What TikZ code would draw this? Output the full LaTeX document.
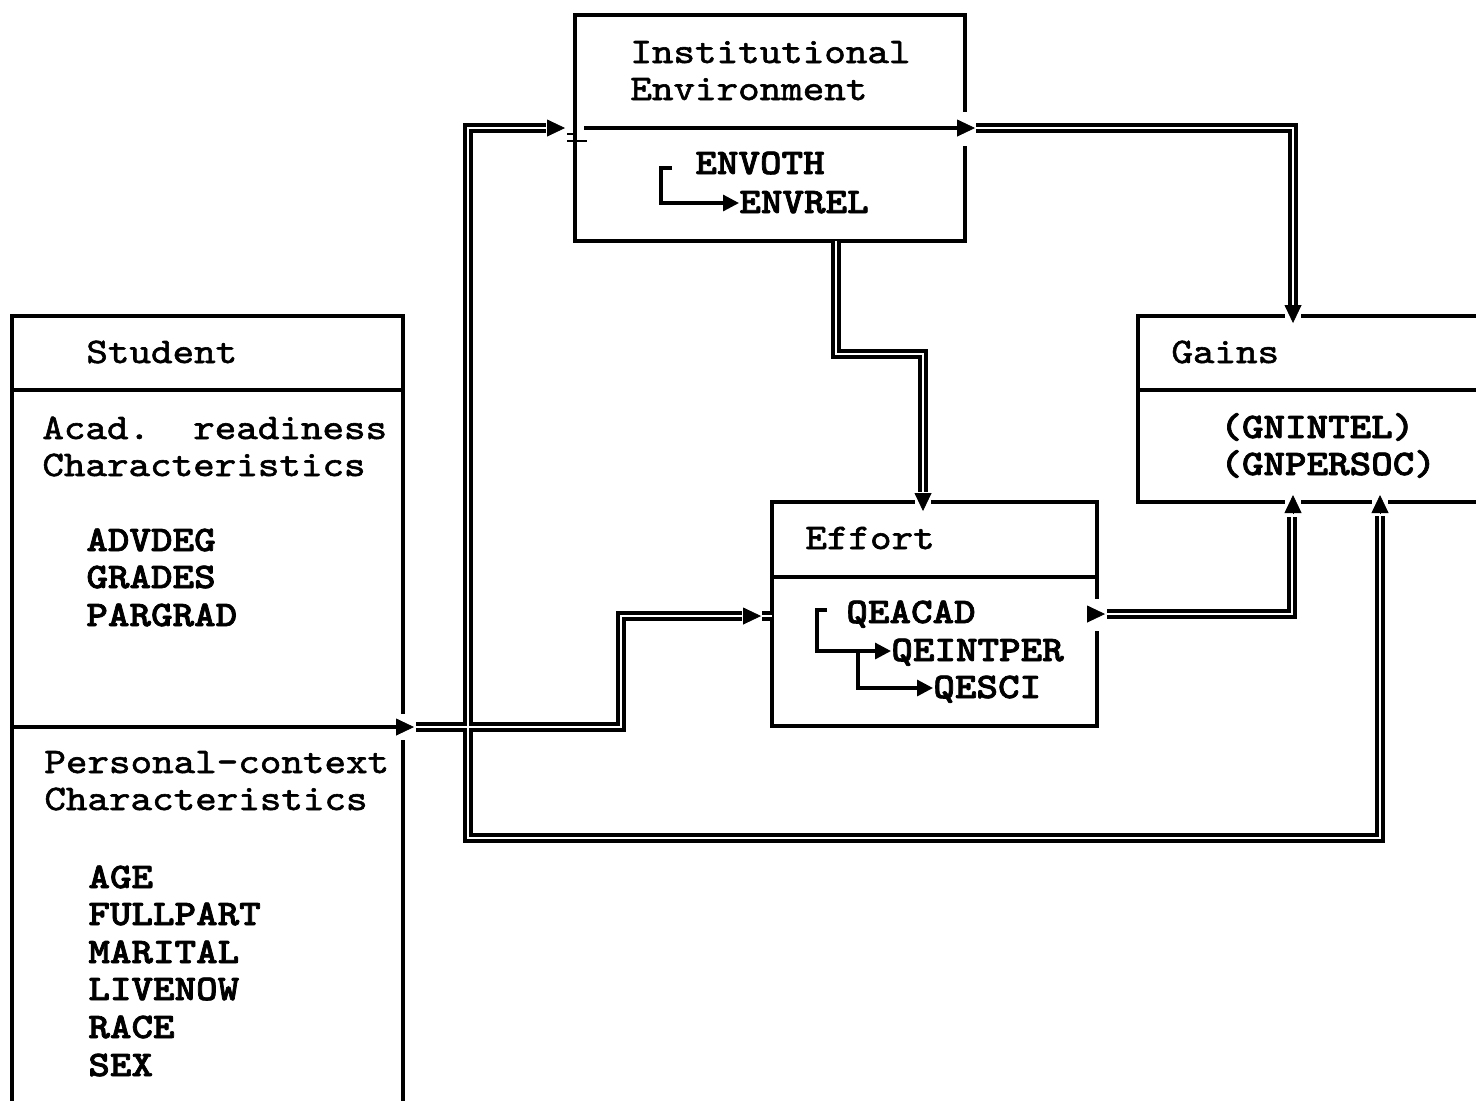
\documentclass[tikz,border=0pt]{standalone}
\usepackage{fontspec}
\newfontfamily\hdrfont{lmmono10-regular.otf}[FakeBold=1.6,FakeStretch=1.14]
\newfontfamily\varfont{lmmonolt10-bold.otf}[FakeBold=2,FakeStretch=1.14]
\usetikzlibrary{arrows.meta,calc}
\tikzset{
  bx/.style={line width=1.8pt, line cap=rect, line join=miter},
  brk/.style={line width=1.6pt, line join=miter, -{Triangle[length=8pt,width=8pt]}},
  dblo/.style={line width=5pt, line join=miter, line cap=butt, black},
  dbli/.style={line width=1.3pt, line join=miter, line cap=butt, white},
  arrowhd/.style={-{Triangle[length=9pt,width=8.5pt]}, line width=0.4pt},
  hd/.style={anchor=base west, inner sep=0pt, font=\hdrfont\fontsize{18pt}{18.5pt}\selectfont},
  vr/.style={anchor=base west, inner sep=0pt, font=\varfont\fontsize{18pt}{18.5pt}\selectfont},
}
\begin{document}
\begin{tikzpicture}[x=0.5pt,y=-0.5pt]
\useasboundingbox[fill=white] (0,0) rectangle (1476,1100);

% ---------- named points of the connectors ----------
\coordinate (stOut) at (416,727);
\coordinate (stKnee1) at (621,727);
\coordinate (stKnee2) at (621,616);
\coordinate (efInEnd) at (742,616);
\coordinate (efStubA) at (762,616);
\coordinate (efStubB) at (772,616);
\coordinate (loopIn) at (546,128);
\coordinate (loopK1) at (468,128);
\coordinate (loopK2) at (468,838);
\coordinate (loopK3) at (1380,838);
\coordinate (loopEnd) at (1380,516);
\coordinate (inOut) at (976,128);
\coordinate (inK1) at (1293,128);
\coordinate (gaTopEnd) at (1293,305);
\coordinate (ieOut) at (836,241);
\coordinate (ieK1) at (836,354);
\coordinate (ieK2) at (923,354);
\coordinate (ieEnd) at (923,492);
\coordinate (egOut) at (1107,614);
\coordinate (egK1) at (1292,614);
\coordinate (egEnd) at (1292,517);

% ---------- boxes ----------
% Student
\draw[bx] (403,712) -- (403,316) -- (12,316) -- (12,1100);
\draw[bx] (403,742) -- (403,1100);
\draw[bx] (12,390) -- (403,390);
\draw[bx] (12,727) -- (397,727);
% Institutional Environment
\draw[bx] (965,110) -- (965,15) -- (575,15) -- (575,241) -- (965,241) -- (965,148);
\draw[bx] (586,128) -- (957,128);
\draw[line width=1.4pt] (567,134) -- (575,134);
\draw[line width=1.4pt] (567,141) -- (587,141);
% Gains
\draw[bx] (1283,316) -- (1138,316) -- (1138,502) -- (1283,502);
\draw[bx] (1303,316) -- (1476,316);
\draw[bx] (1303,502) -- (1370,502);
\draw[bx] (1390,502) -- (1476,502);
\draw[bx] (1138,390) -- (1476,390);
% Effort
\draw[bx] (913,502) -- (772,502) -- (772,726) -- (1097,726) -- (1097,633);
\draw[bx] (933,502) -- (1097,502) -- (1097,597);
\draw[bx] (772,577) -- (1097,577);

% ---------- double connectors (outer black first, then white core) ----------
\foreach \s in {dblo,dbli}{
  \draw[\s] (stOut) -- (stKnee1) -- (stKnee2) -- (efInEnd);
  \draw[\s] (efStubA) -- (efStubB);
  \draw[\s] (loopIn) -- (loopK1) -- (loopK2) -- (loopK3) -- (loopEnd);
  \draw[\s] (inOut) -- (inK1) -- (gaTopEnd);
  \draw[\s] (ieOut) -- (ieK1) -- (ieK2) -- (ieEnd);
  \draw[\s] (egOut) -- (egK1) -- (egEnd);
}

% ---------- arrowheads ----------
\draw[arrowhd] (396,727) -- (414,727);
\draw[arrowhd] (743,616) -- (761,616);
\draw[arrowhd] (547,128) -- (565,128);
\draw[arrowhd] (957,128) -- (975,128);
\draw[arrowhd] (1293,305) -- (1293,323);
\draw[arrowhd] (923,493) -- (923,511);
\draw[arrowhd] (1087,614) -- (1105,614);
\draw[arrowhd] (1293,513) -- (1293,495);
\draw[arrowhd] (1380,513) -- (1380,495);

% ---------- inner brackets ----------
\draw[brk] (672,168) -- (661,168) -- (661,203) -- (739,203);
\draw[brk] (827,610) -- (817,610) -- (817,651) -- (891,651);
\draw[brk] (858,651) -- (858,688) -- (933,688);

% ---------- texts ----------
\node[hd] (tInst1) at (630,63) {Institutional};
\node[hd] (tInst2) at (630,100) {Environment};
\node[vr] (vEnvoth) at (695,174) {ENVOTH};
\node[vr] (vEnvrel) at (739,213) {ENVREL};

\node[hd] (tStudent) at (86,363) {Student};
\node[hd] (tAcad1) at (42,439) {Acad.~~readiness};
\node[hd] (tAcad2) at (42,476) {Characteristics};
\node[vr] (vAdvdeg) at (86,551) {ADVDEG};
\node[vr] (vGrades) at (86,588) {GRADES};
\node[vr] (vPargrad) at (86,626) {PARGRAD};
\node[hd] (tPers1) at (44,773) {Personal-context};
\node[hd] (tPers2) at (44,810) {Characteristics};
\node[vr] (vAge) at (88,888) {AGE};
\node[vr] (vFullpart) at (88,925) {FULLPART};
\node[vr] (vMarital) at (88,963) {MARITAL};
\node[vr] (vLivenow) at (88,1000) {LIVENOW};
\node[vr] (vRace) at (88,1038) {RACE};
\node[vr] (vSex) at (88,1076) {SEX};

\node[hd] (tGains) at (1171,363) {Gains};
\node[vr] (vGnintel) at (1220,438) {(GNINTEL)};
\node[vr] (vGnpersoc) at (1220,475) {(GNPERSOC)};

\node[hd] (tEffort) at (805,549) {Effort};
\node[vr] (vQeacad) at (846,623) {QEACAD};
\node[vr] (vQeintper) at (891,661) {QEINTPER};
\node[vr] (vQesci) at (933,698) {QESCI};
\end{tikzpicture}
\end{document}
